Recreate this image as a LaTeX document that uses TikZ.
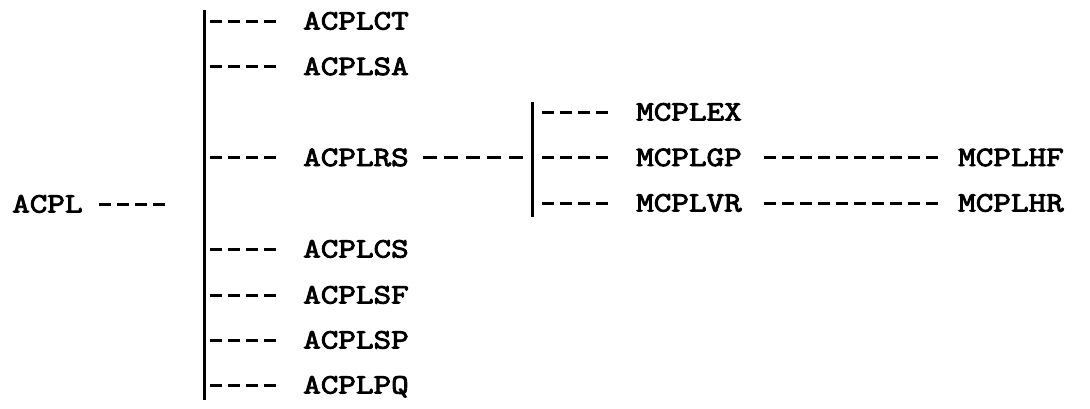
\documentclass[tikz,border=0pt]{standalone}
\usepackage{fontspec}
% heavy, wide typewriter face
\newfontfamily\typewriter{Latin Modern Mono}[FakeBold=3.2, FakeStretch=1.22]
\begin{document}
\begin{tikzpicture}[x=1pt,y=-1pt,
  lbl/.style={anchor=west, inner sep=0pt, text height=17pt, text depth=0pt,
    font=\typewriter\fontsize{28}{28}\selectfont},
  bar/.style={line width=3pt},
  dashline/.style={line width=3pt, dash pattern=on 12pt off 6pt}]
\useasboundingbox (0,0) rectangle (1090,408);

% root
\node[lbl] (acpl) at (12,204) {ACPL};

% first level
\node[lbl] (ct) at (303,21)    {ACPLCT};
\node[lbl] (sa) at (303,66.5)  {ACPLSA};
\node[lbl] (rs) at (303,157.5) {ACPLRS};
\node[lbl] (cs) at (303,249)   {ACPLCS};
\node[lbl] (sf) at (303,295)   {ACPLSF};
\node[lbl] (sp) at (303,340)   {ACPLSP};
\node[lbl] (pq) at (303,385)   {ACPLPQ};

% second level under ACPLRS
\node[lbl] (ex) at (636,112)   {MCPLEX};
\node[lbl] (gp) at (636,157.5) {MCPLGP};
\node[lbl] (vr) at (636,203)   {MCPLVR};

% third level
\node[lbl] (hf) at (958,157.5) {MCPLHF};
\node[lbl] (hr) at (958,203)   {MCPLHR};

% vertical bars
\coordinate (b1t) at (204,10);
\coordinate (b1b) at (204,400);
\coordinate (b2t) at (532,102);
\coordinate (b2b) at (532,217);
\draw[bar] (b1t) -- (b1b);
\draw[bar] (b2t) -- (b2b);

% root to first bar
\draw[dashline, shorten <=16pt, shorten >=37pt] (acpl.east) -- (acpl.east -| b1t);

% first bar to its branches
\foreach \n in {ct,sa,rs,cs,sf,sp,pq}
  \draw[dashline, shorten <=6pt, shorten >=24pt] (b1t |- \n.west) -- (\n.west);

% ACPLRS to second bar
\draw[dashline, dash pattern=on 14pt off 7.5pt, shorten <=14pt, shorten >=5pt]
  (rs.east) -- (rs.east -| b2t);

% second bar to its branches
\foreach \n in {ex,gp,vr}
  \draw[dashline, shorten <=10pt, shorten >=26pt] (b2t |- \n.west) -- (\n.west);

% third level links
\draw[dashline, shorten <=22pt, shorten >=18pt] (gp.east) -- (hf.west);
\draw[dashline, shorten <=22pt, shorten >=18pt] (vr.east) -- (hr.west);
\end{tikzpicture}
\end{document}
